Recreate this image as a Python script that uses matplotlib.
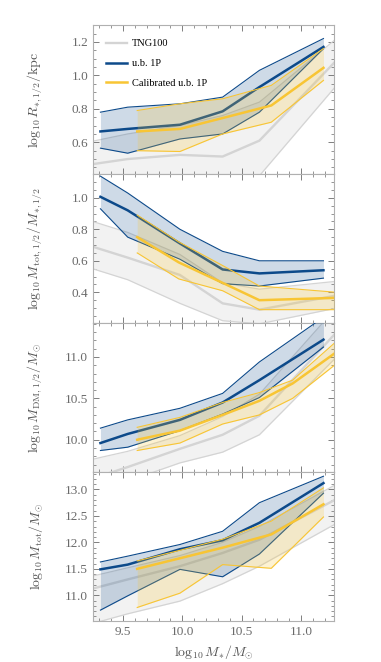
import numpy as np
import matplotlib
matplotlib.use("Agg")
import matplotlib.pyplot as plt
from matplotlib.ticker import MultipleLocator, AutoMinorLocator, FormatStrFormatter

plt.rcParams['font.family'] = ['Liberation Serif', 'DejaVu Serif']
plt.rcParams['mathtext.fontset'] = 'cm'

# x bins (log10 M*/Msun)
x_tng = [9.2, 9.54, 9.98, 10.34, 10.65, 11.3]
x_ub = [9.31, 9.54, 9.98, 10.34, 10.65, 11.19]
x_cal_r = [9.62, 9.98, 10.34, 10.75, 11.19]
x_cal_mt12 = [9.62, 9.97, 10.34, 10.65, 11.3]
x_cal_mdm = [9.62, 9.98, 10.34, 10.65, 10.93, 11.3]
x_cal_mtot = [9.62, 9.98, 10.34, 10.75, 11.19]

# panel 1: log10 R_{*,1/2}/kpc  (lower, median, upper)
r_tng = ([0.30, 0.33, 0.36, 0.37, 0.40, 0.94],
         [0.465, 0.50, 0.525, 0.515, 0.61, 1.09],
         [0.60, 0.65, 0.70, 0.76, 0.84, 1.22])
r_ub = ([0.565, 0.535, 0.62, 0.65, 0.78, 1.16],
        [0.665, 0.68, 0.705, 0.785, 0.93, 1.17],
        [0.78, 0.81, 0.83, 0.87, 1.03, 1.22])
r_cal = ([0.55, 0.545, 0.65, 0.72, 0.97],
         [0.665, 0.68, 0.745, 0.82, 1.045],
         [0.79, 0.83, 0.86, 0.94, 1.16])

# panel 2: log10 M_tot,1/2 / M_*,1/2
mt12_tng = ([0.56, 0.48, 0.33, 0.22, 0.20, 0.30],
            [0.70, 0.62, 0.51, 0.33, 0.29, 0.38],
            [0.86, 0.78, 0.64, 0.46, 0.42, 0.47])
mt12_ub = ([0.93, 0.75, 0.61, 0.455, 0.44, 0.49],
           [1.006, 0.92, 0.71, 0.545, 0.52, 0.54],
           [1.137, 1.03, 0.80, 0.66, 0.60, 0.60])
mt12_cal = ([0.65, 0.485, 0.41, 0.29, 0.29],
            [0.75, 0.59, 0.46, 0.35, 0.365],
            [0.89, 0.72, 0.57, 0.44, 0.40])

# panel 3: log10 M_DM,1/2 / Msun
mdm_tng = ([9.35, 9.50, 9.72, 9.85, 10.06, 11.00],
           [9.51, 9.67, 9.89, 10.06, 10.29, 11.30],
           [9.75, 9.86, 10.05, 10.28, 10.55, 11.60])
mdm_ub = ([9.87, 9.91, 10.11, 10.31, 10.51, 11.12],
          [9.96, 10.07, 10.24, 10.45, 10.72, 11.21],
          [10.14, 10.24, 10.38, 10.56, 10.94, 11.48])
mdm_cal = ([9.87, 9.96, 10.19, 10.30, 10.50, 10.92],
           [10.0, 10.11, 10.30, 10.47, 10.68, 11.06],
           [10.15, 10.27, 10.45, 10.57, 10.72, 11.19])

# panel 4: log10 M_tot / Msun
mtot_tng = ([10.44, 10.65, 10.89, 11.22, 11.55, 12.36],
            [11.10, 11.30, 11.55, 11.80, 12.05, 12.82],
            [11.34, 11.52, 11.75, 12.00, 12.30, 13.10])
mtot_ub = ([10.72, 10.99, 11.49, 11.35, 11.78, 12.93],
           [11.49, 11.58, 11.87, 12.04, 12.37, 13.12],
           [11.63, 11.74, 11.96, 12.21, 12.75, 13.25])
mtot_cal = ([10.77, 11.04, 11.58, 11.51, 12.48],
            [11.50, 11.70, 11.90, 12.15, 12.72],
            [11.65, 11.85, 12.06, 12.40, 13.03])

panels = [
    (r_tng, r_ub, x_cal_r, r_cal, (0.41, 1.30), 0.2,
     r'$\log_{10}R_{*,1/2}/\mathrm{kpc}$'),
    (mt12_tng, mt12_ub, x_cal_mt12, mt12_cal, (0.205, 1.15), 0.2,
     r'$\log_{10}M_{\mathrm{tot},1/2}/M_{*,1/2}$'),
    (mdm_tng, mdm_ub, x_cal_mdm, mdm_cal, (9.61, 11.41), 0.5,
     r'$\log_{10}M_{\mathrm{DM},1/2}/M_{\odot}$'),
    (mtot_tng, mtot_ub, x_cal_mtot, mtot_cal, (10.515, 13.33), 0.5,
     r'$\log_{10}M_{\mathrm{tot}}/M_{\odot}$'),
]

grey_line = '#d4d4d4'
grey_fill = '#f2f2f2'
blue = '#0d4a8a'
yellow = '#f8c534'
tick_col = '#6a6a6a'

fig, axes = plt.subplots(4, 1, figsize=(3.81, 6.62), dpi=100, sharex=True)
fig.subplots_adjust(left=0.244, right=0.877, top=0.962, bottom=0.062, hspace=0)

for ax, (tng, ub, xc, cal, ylim, major, label) in zip(axes, panels):
    # TNG100
    ax.fill_between(x_tng, tng[0], tng[2], color=grey_fill, lw=0, zorder=1)
    ax.plot(x_tng, tng[0], color=grey_line, lw=0.9, zorder=2)
    ax.plot(x_tng, tng[2], color=grey_line, lw=0.9, zorder=2)
    ax.plot(x_tng, tng[1], color=grey_line, lw=1.7, zorder=2, label='TNG100')
    # u.b. 1P
    ax.fill_between(x_ub, ub[0], ub[2], color=blue, alpha=0.2, lw=0, zorder=3)
    ax.plot(x_ub, ub[0], color=blue, lw=0.8, zorder=4)
    ax.plot(x_ub, ub[2], color=blue, lw=0.8, zorder=4)
    ax.plot(x_ub, ub[1], color=blue, lw=1.8, zorder=4, label='u.b. 1P')
    # calibrated u.b. 1P
    ax.fill_between(xc, cal[0], cal[2], color=yellow, alpha=0.22, lw=0, zorder=5)
    ax.plot(xc, cal[0], color=yellow, lw=0.8, zorder=6)
    ax.plot(xc, cal[2], color=yellow, lw=0.8, zorder=6)
    ax.plot(xc, cal[1], color=yellow, lw=1.8, zorder=6, label='Calibrated u.b. 1P')

    ax.set_ylim(*ylim)
    ax.set_xlim(9.247, 11.28)
    ax.yaxis.set_major_locator(MultipleLocator(major))
    ax.yaxis.set_minor_locator(AutoMinorLocator(4 if major == 0.2 else 5))
    ax.xaxis.set_major_locator(MultipleLocator(0.5))
    ax.xaxis.set_minor_locator(MultipleLocator(0.1))
    ax.tick_params(which='both', direction='in', top=True, right=True,
                   colors=tick_col, labelsize=9.5)
    ax.tick_params(which='major', length=4, width=0.6)
    ax.tick_params(which='minor', length=2, width=0.5)
    ax.yaxis.set_major_formatter(FormatStrFormatter('%.1f'))
    for s in ax.spines.values():
        s.set_color('#b0b0b0')
        s.set_linewidth(0.8)
    ax.set_ylabel(label, fontsize=10, color='#555555')
    ax.yaxis.set_label_coords(-0.2, 0.5)

axes[-1].xaxis.set_major_formatter(FormatStrFormatter('%.1f'))
axes[-1].set_xlabel(r'$\log_{10}M_{*}/M_{\odot}$', fontsize=10, color='#555555')

axes[0].legend(loc='upper left', bbox_to_anchor=(0.025, 0.955), frameon=False,
               fontsize=7.5, handlelength=2.0, labelspacing=1.0,
               handletextpad=0.5, borderaxespad=0.3)

fig.savefig('out.png', dpi=100)
